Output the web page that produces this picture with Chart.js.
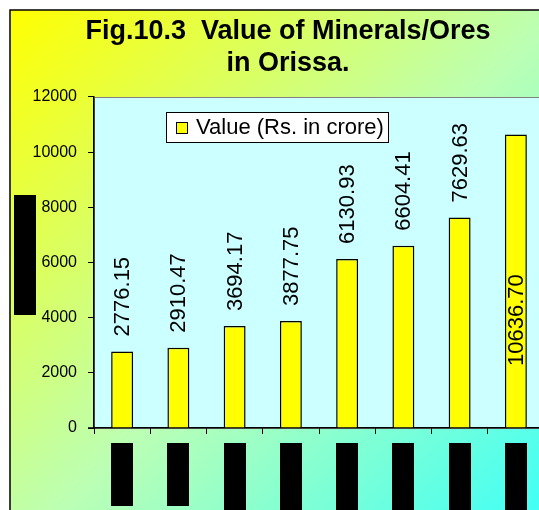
<!DOCTYPE html>
<html>
<head>
<meta charset="utf-8">
<script src="https://cdn.jsdelivr.net/npm/chart.js@4/dist/chart.umd.min.js"></script>
<style>
    html, body { margin: 0; padding: 0; overflow: hidden; background: #fff; }
    #wrap { width: 550px; height: 510px; }
</style>
</head>
<body>
<div id="wrap"><canvas id="chartMinerals"></canvas></div>
<script>
/* Données (libellés d'années masqués dans l'original) */
const years  = ['1999-00', '2000-01', '2001-02', '2002-03', '2003-04', '2004-05', '2005-06', '2006-07'];
const values = [2776.15, 2910.47, 3694.17, 3877.75, 6130.93, 6604.41, 7629.63, 10636.70];
const yTicks = [0, 2000, 4000, 6000, 8000, 10000, 12000];

const FONT = "'Liberation Sans', Arial, sans-serif";

/* ============================================================
   Fond dégradé + zone de tracé
============================================================ */
const backgroundPlugin = {
    id: 'background',
    beforeDraw(chart) {
        const { ctx, width, height, chartArea: a } = chart;
        ctx.save();
        ctx.fillStyle = '#fff';
        ctx.fillRect(0, 0, width, height);

        const g = ctx.createLinearGradient(10, 10, 560, 560);
        g.addColorStop(0, '#ffff00');
        g.addColorStop(0.5, '#bcffb4');
        g.addColorStop(1, '#30ffff');
        ctx.fillStyle = g;
        ctx.fillRect(10, 10, width, height);

        ctx.strokeStyle = '#000';
        ctx.lineWidth = 1.5;
        ctx.beginPath();
        ctx.moveTo(10, height); ctx.lineTo(10, 10); ctx.lineTo(width, 10);
        ctx.stroke();

        ctx.fillStyle = '#ccffff';
        ctx.fillRect(a.left, a.top, a.right - a.left, a.bottom - a.top);
        ctx.strokeStyle = '#808080';
        ctx.lineWidth = 1;
        ctx.strokeRect(a.left + 0.5, a.top + 0.5, a.right - a.left, a.bottom - a.top);
        ctx.restore();
    }
};

/* ============================================================
   Étiquettes verticales des valeurs + légende + masques
============================================================ */
const labelsPlugin = {
    id: 'valueLabels',
    afterDatasetsDraw(chart) {
        const { ctx, chartArea: a } = chart;
        const meta = chart.getDatasetMeta(0);
        ctx.save();
        ctx.font = '22px ' + FONT;
        ctx.fillStyle = '#000';
        ctx.textAlign = 'left';
        ctx.textBaseline = 'middle';
        meta.data.forEach((bar, i) => {
            const txt = values[i].toFixed(2);
            const w = ctx.measureText(txt).width;
            let yBottom = bar.y - 15;
            if (yBottom - w < a.top) {
                yBottom = bar.y + 0.79 * (bar.base - bar.y);
            }
            ctx.save();
            ctx.translate(bar.x + 1, yBottom);
            ctx.rotate(-Math.PI / 2);
            ctx.fillText(txt, 0, 0);
            ctx.restore();
        });
        ctx.restore();
    },
    afterDraw(chart) {
        const { ctx, chartArea: a } = chart;
        const ds = chart.data.datasets[0];
        const meta = chart.getDatasetMeta(0);
        ctx.save();

        /* l'axe X déborde un peu à gauche */
        ctx.strokeStyle = '#000';
        ctx.lineWidth = 1.5;
        ctx.beginPath();
        ctx.moveTo(a.left - 6, a.bottom); ctx.lineTo(a.left, a.bottom);
        ctx.stroke();

        /* légende dans la zone de tracé */
        ctx.fillStyle = '#fff';
        ctx.lineWidth = 1;
        ctx.fillRect(166, 112, 222, 30);
        ctx.strokeRect(166.5, 112.5, 222, 30);
        ctx.fillStyle = ds.backgroundColor;
        ctx.fillRect(176.5, 122.5, 11, 11);
        ctx.strokeRect(176.5, 122.5, 11, 11);
        ctx.fillStyle = '#000';
        ctx.font = '22px ' + FONT;
        ctx.textBaseline = 'middle';
        ctx.fillText(ds.label, 196, 128);

        /* libellés masqués (blocs noirs) */
        const redactLen = [63, 63, 80, 80, 80, 80, 80, 80];
        meta.data.forEach((bar, i) => {
            ctx.fillRect(Math.round(bar.x - bar.width / 2), 443, Math.round(bar.width), redactLen[i]);
        });
        ctx.fillRect(14, 195, 22, 120);
        ctx.restore();
    }
};

new Chart(document.getElementById('chartMinerals'), {
    type: 'bar',
    data: {
        labels: years,
        datasets: [{
            label: 'Value (Rs. in crore)',
            data: values,
            backgroundColor: '#ffff00',
            borderColor: '#000',
            borderWidth: 1.5,
            categoryPercentage: 1,
            barPercentage: 0.39,
        }]
    },
    options: {
        responsive: true,
        maintainAspectRatio: false,
        animation: false,
        devicePixelRatio: 1,
        layout: { padding: { left: 32, right: 6, top: 0, bottom: 0 } },
        plugins: {
            legend: { display: false },
            tooltip: { enabled: false },
            title: {
                display: true,
                text: ['Fig.10.3  Value of Minerals/Ores', 'in Orissa.'],
                color: '#000',
                font: { family: FONT, size: 27, weight: 'bold', lineHeight: 1.185 },
                padding: { top: 16, bottom: 17 }
            }
        },
        scales: {
            x: {
                grid: { display: true, drawOnChartArea: false, drawTicks: true, tickLength: 6, offset: true, color: '#000' },
                border: { display: true, color: '#000', width: 1.5 },
                ticks: { display: false },
                afterFit: s => { s.height = 82; }
            },
            y: {
                min: 0, max: 12000,
                afterBuildTicks: s => { s.ticks = yTicks.map(v => ({ value: v })); },
                grid: { drawOnChartArea: false, drawTicks: true, tickLength: 6, color: '#000' },
                border: { display: true, color: '#000', width: 1.5 },
                ticks: { color: '#000', padding: 11, font: { family: FONT, size: 16 }, callback: v => String(v) },
                afterFit: s => { s.width = 62; }
            }
        }
    },
    plugins: [backgroundPlugin, labelsPlugin]
});
</script>
</body>
</html>
